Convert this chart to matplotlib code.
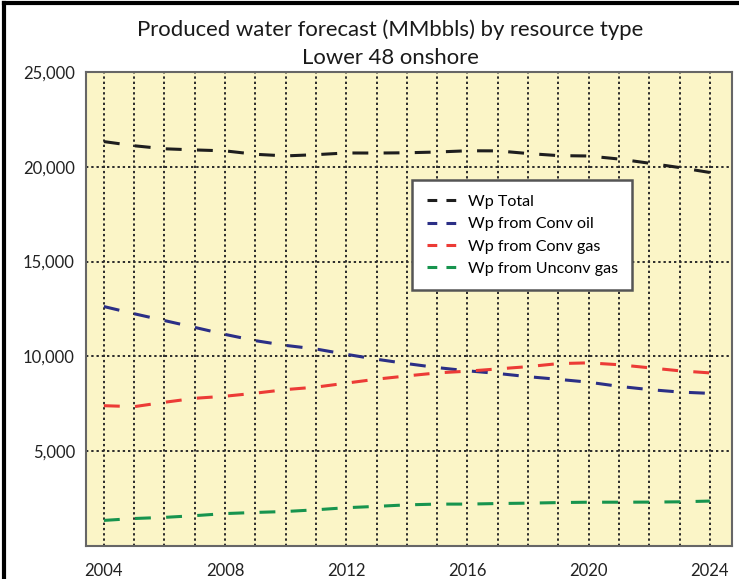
import matplotlib
matplotlib.use('Agg')
import matplotlib.pyplot as plt
from matplotlib.lines import Line2D

years = list(range(2004, 2025))
wp_total = [21330, 21110, 20950, 20890, 20840, 20660, 20575, 20640, 20730, 20725, 20740,
            20780, 20845, 20840, 20700, 20590, 20570, 20410, 20190, 19960, 19700]
wp_conv_oil = [12630, 12250, 11890, 11530, 11160, 10830, 10580, 10390, 10110, 9850, 9620,
               9410, 9240, 9100, 8930, 8790, 8640, 8420, 8250, 8120, 8050]
wp_conv_gas = [7400, 7350, 7580, 7790, 7900, 8060, 8250, 8380, 8590, 8800, 8970,
               9130, 9220, 9340, 9460, 9620, 9660, 9560, 9400, 9240, 9130]
wp_unconv_gas = [1350, 1450, 1510, 1600, 1710, 1770, 1820, 1910, 2020, 2090, 2170,
                 2210, 2210, 2240, 2260, 2290, 2310, 2310, 2315, 2330, 2370]

series = [('Wp Total', wp_total, '#1e1e1e'),
          ('Wp from Conv oil', wp_conv_oil, '#2b2f86'),
          ('Wp from Conv gas', wp_conv_gas, '#ec3b36'),
          ('Wp from Unconv gas', wp_unconv_gas, '#17944e')]

xticks = [2004, 2008, 2012, 2016, 2020, 2024]
yticks = [5000, 10000, 15000, 20000, 25000]

plt.rcParams['font.family'] = ['Lato', 'DejaVu Sans']

fig = plt.figure(figsize=(7.39, 5.79), dpi=100)
ax = fig.add_axes([86/739, 1-546/579, 646/739, 474/579])
ax.set_facecolor('#fbf5c7')

handles = []
for name, vals, col in series:
    ax.plot(years, vals, color=col, lw=2.2, linestyle=(0, (5.2, 5.0)))
    # shorter dashes for the legend key, like the original
    handles.append(Line2D([], [], color=col, lw=2.2, linestyle=(0, (3.2, 3.0)), label=name))

ax.set_xlim(2003.41, 2024.73)
ax.set_ylim(0, 25000)
ax.set_xticks(xticks)
ax.set_xticks(years, minor=True)
ax.set_yticks(yticks)
ax.set_yticklabels(['{:,}'.format(v) for v in yticks])
ax.tick_params(length=0, labelsize=12, colors='#222222')
ax.tick_params(axis='x', pad=12)
ax.tick_params(axis='y', pad=8)
ax.tick_params(which='minor', length=0)
ax.grid(True, which='both', axis='x', color='#2a2a2a', lw=1.4, linestyle=(0, (1.2, 1.5)))
ax.grid(True, which='major', axis='y', color='#2a2a2a', lw=1.4, linestyle=(0, (1.2, 1.5)))
ax.set_axisbelow(True)
for s in ax.spines.values():
    s.set_color('#666666')
    s.set_linewidth(1.5)

leg = ax.legend(handles=handles, loc='upper left', bbox_to_anchor=(0.505, 0.772), fontsize=11.6,
                frameon=True, fancybox=False, handlelength=2.1, handletextpad=0.45,
                borderpad=0.9, labelspacing=0.5, borderaxespad=0)
leg.get_frame().set_edgecolor('#555555')
leg.get_frame().set_linewidth(1.8)
leg.get_frame().set_facecolor('white')
leg.get_frame().set_alpha(1)

fig.text(390/739, 1-30/579, 'Produced water forecast (MMbbls) by resource type',
         ha='center', va='center', fontsize=15.9, color='#1a1a1a')
fig.text(390/739, 1-58/579, 'Lower 48 onshore', ha='center', va='center',
         fontsize=15.9, color='#1a1a1a')

fig.add_artist(Line2D([0.005, 0.005], [0, 0.995], transform=fig.transFigure, color='black', lw=3))
fig.add_artist(Line2D([0.005, 1], [0.995, 0.995], transform=fig.transFigure, color='black', lw=3))

fig.savefig('out.png', dpi=100)
